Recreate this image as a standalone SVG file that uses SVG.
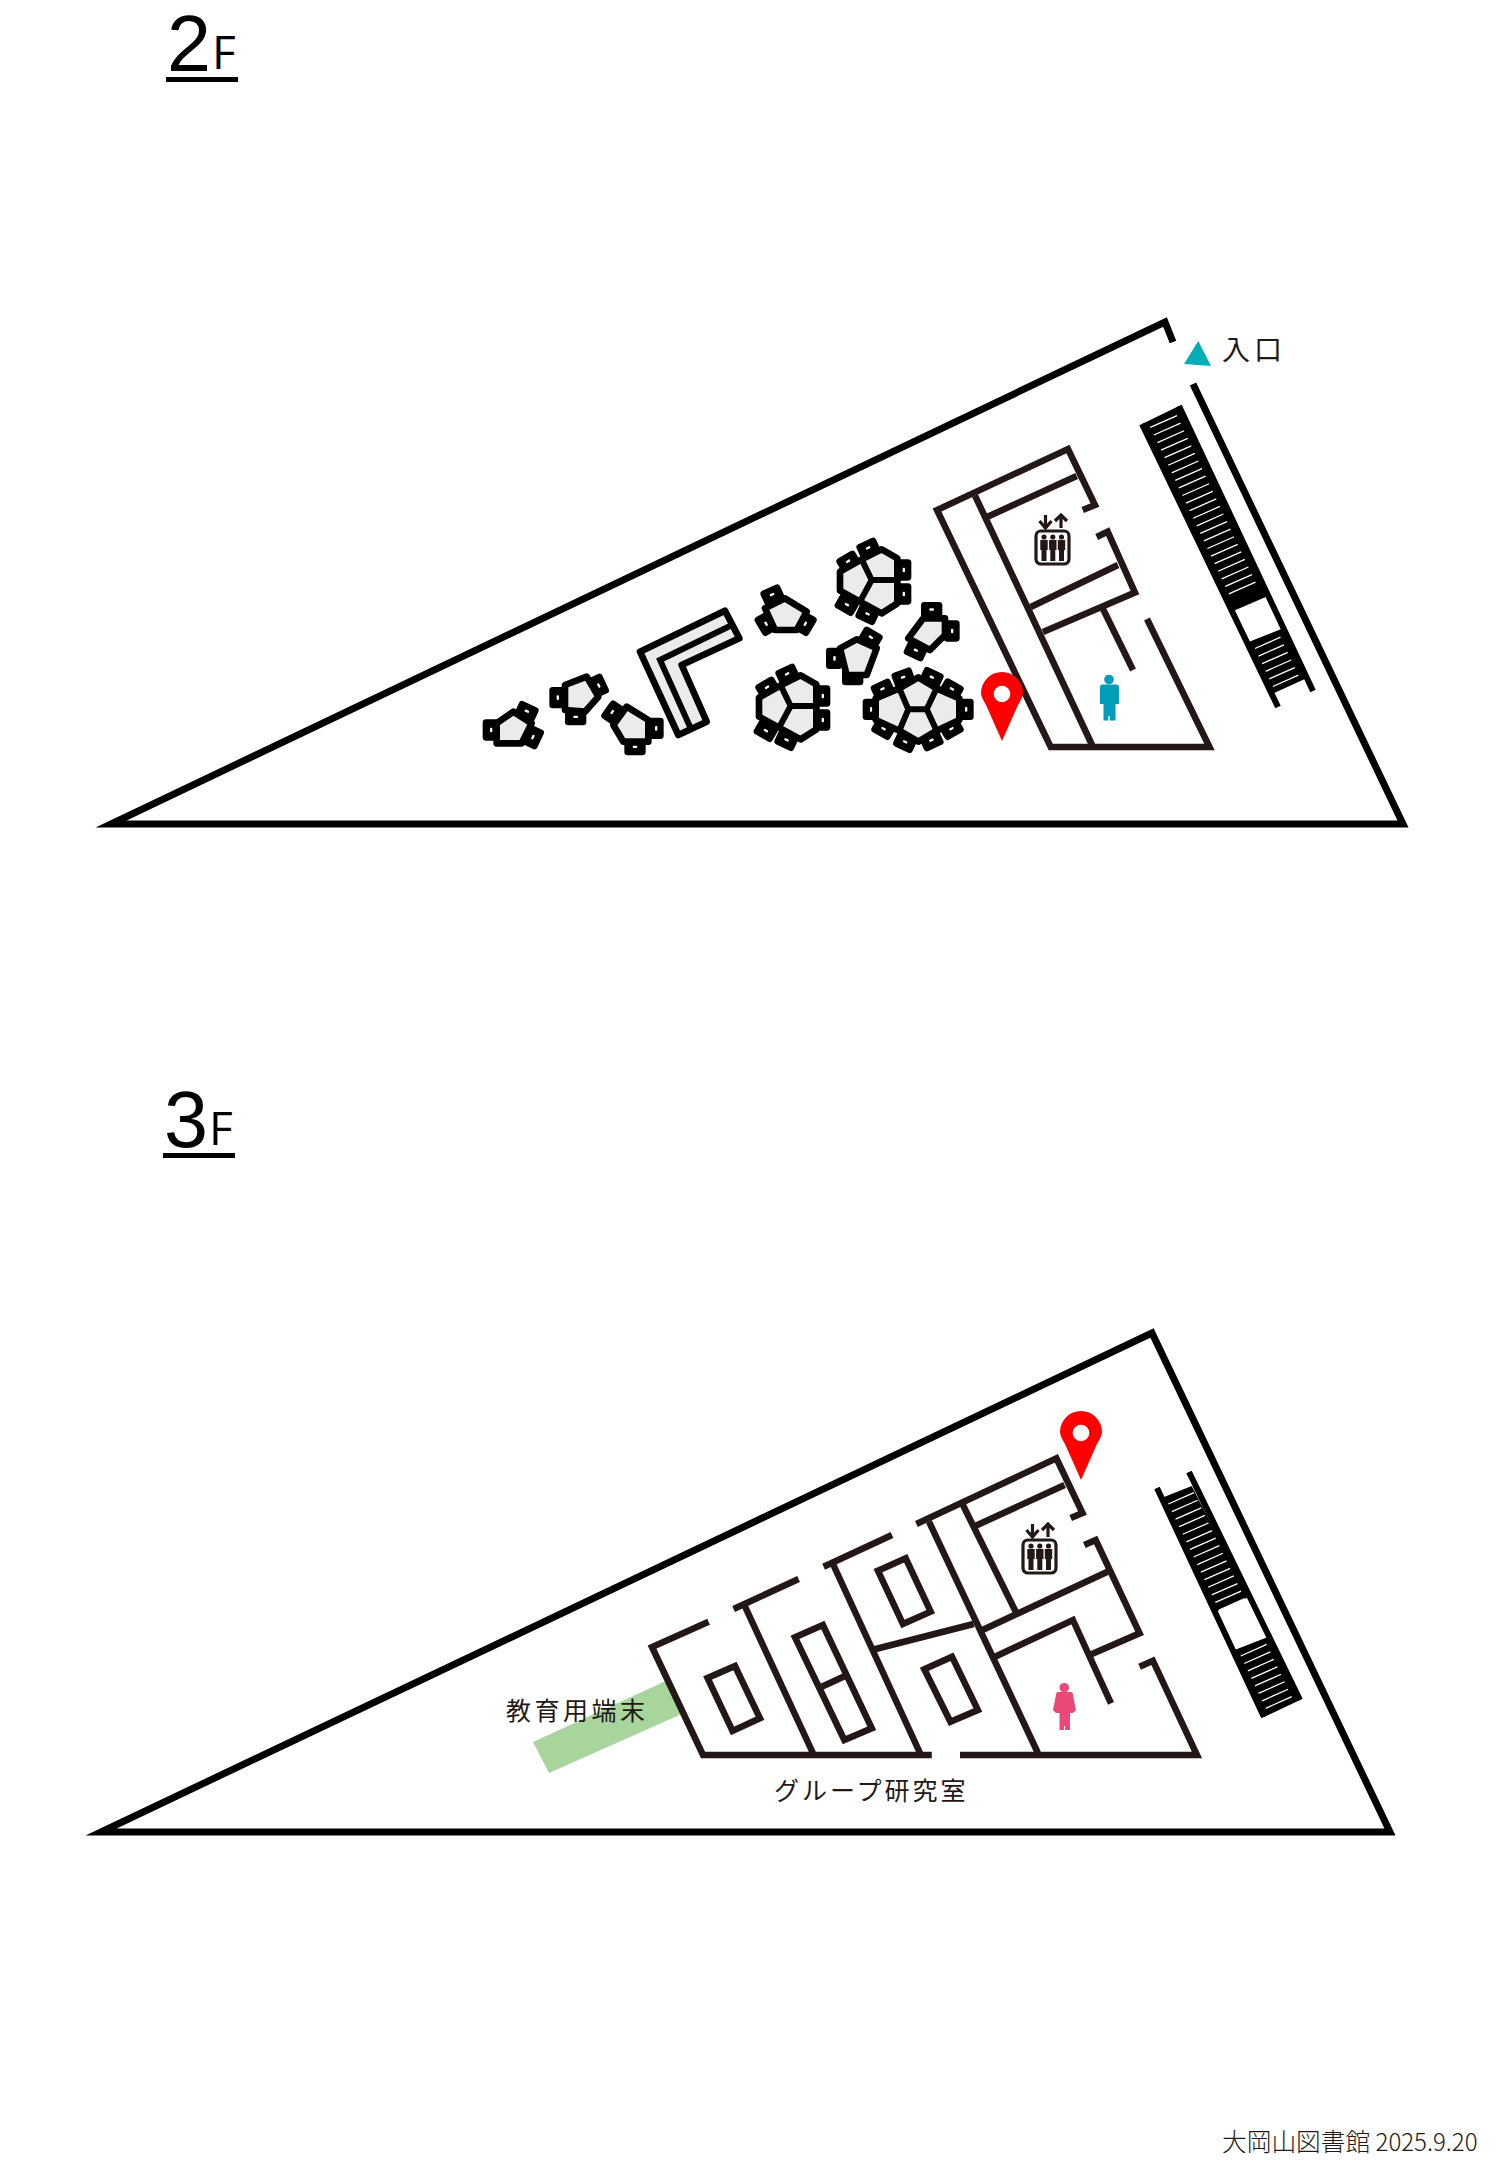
<svg xmlns="http://www.w3.org/2000/svg" width="1500" height="2167" viewBox="0 0 1500 2167">
<style>
.bg{fill:#fff}
.o{fill:none;stroke:#000;stroke-width:7;stroke-miterlimit:12}
.w{fill:none;stroke:#231815;stroke-width:6.500;stroke-miterlimit:6}
.rail{fill:none;stroke:#000;stroke-width:6}
.st{fill:none;stroke:#fff;stroke-width:1.3}
.t{fill:#ebecea;stroke:#000;stroke-width:20;stroke-linejoin:round}
.l{fill:none;stroke:#000;stroke-width:18}
.lab{font-family:"Noto Sans CJK JP","Noto Sans",sans-serif;fill:#231815}
.ft{font-family:"Noto Sans CJK JP","Noto Sans",sans-serif;fill:#231815;font-weight:300}
.ti{font-family:"Open Sans","Noto Sans",sans-serif;fill:#000}
.dg{font-family:"Liberation Sans",sans-serif;fill:#000}
</style>
<defs>
<g id="chair"><rect x="-32" y="-24" width="64" height="48" rx="10" fill="#000"/><rect x="-7" y="-5" width="14" height="7" rx="3" fill="#fff"/></g>
<g id="pin"><path d="M0 47L-16 11Q-21 3-21-1A21 21 0 1 1 21-1Q21 3 16 11Z" fill="#f00"/><circle r="8.3" fill="#fff"/></g>
<g id="elev">
<rect x="0" y="0" width="33" height="33" rx="5" fill="none" stroke="#231815" stroke-width="3.200"/>
<path d="M9.500-16V-4M3.500-10L9.500-3 15.500-10M25-3V-16M19-10L25-16 31-10" fill="none" stroke="#231815" stroke-width="3.200"/>
<g fill="#231815">
<circle cx="8" cy="6" r="2.600"/><path d="M4.300 9H11.700V19H10.500V30H5.500V19H4.300Z"/>
<circle cx="16.800" cy="6" r="2.600"/><path d="M13.100 9H20.500V19H19.300V30H14.300V19H13.100Z"/>
<circle cx="25.500" cy="6" r="2.600"/><path d="M21.800 9H29.200V19H28V30H23V19H21.800Z"/>
</g>
</g>
<g id="tri3">
<use href="#chair" transform="translate(1165 125) rotate(-30)"/><use href="#chair" transform="translate(1225 85) rotate(-25)"/><use href="#chair" transform="translate(1330 150) rotate(90)"/><use href="#chair" transform="translate(1330 222) rotate(90)"/><use href="#chair" transform="translate(1160 255) rotate(30)"/><use href="#chair" transform="translate(1222 283) rotate(25)"/>
<path class="t" d="M1265 88L1312 115V250L1265 280 1200 245 1140 212V155L1205 118Z"/>
<path class="l" d="M1205 118L1235 180H1312M1235 180L1200 245"/>
</g>
</defs>
<rect class="bg" width="1500" height="2167"/>

<g id="title-2f">
<text class="dg" x="167" y="71" font-size="79">2</text>
<text class="ti" x="212" y="69" font-size="46">F</text>
<rect x="166" y="77" width="72" height="5" fill="#000"/>
</g>
<g id="title-3f">
<text class="dg" x="164" y="1147" font-size="79">3</text>
<text class="ti" x="209" y="1145" font-size="46">F</text>
<rect x="163" y="1153" width="72" height="5" fill="#000"/>
</g>

<g id="floor-2f">
<path id="outer-2f" class="o" d="M1173 342L1165 322 111 824H1403L1193 384"/>
<g id="stairs-2f">
<path class="rail" d="M1142 424L1278 707M1179 406L1313 691"/>
<path d="M1142 424L1179 406 1268 596 1231 612Z"/>
<path d="M1246 643L1284 628 1307 678 1272 694Z"/>
<path class="st" d="M1150.300 427.400l26.700-11.800m-23.130 19.370l26.700-11.800m-23.130 19.370l26.700-11.800m-23.130 19.370l26.700-11.800m-23.130 19.370l26.700-11.800m-23.130 19.370l26.700-11.800m-23.130 19.370l26.700-11.800m-23.130 19.370l26.700-11.800m-23.130 19.370l26.700-11.800m-23.130 19.370l26.700-11.800m-23.130 19.370l26.700-11.800m-23.130 19.370l26.700-11.800m-23.130 19.370l26.700-11.800m-23.130 19.370l26.700-11.800m-23.130 19.370l26.700-11.800m-23.130 19.370l26.700-11.800m-23.130 19.370l26.700-11.800m-23.130 19.370l26.700-11.800m-23.130 19.370l26.700-11.800m-23.130 19.370l26.700-11.800m-23.130 19.370l26.700-11.800m-23.130 19.370l26.700-11.800m-23.130 19.370l26.700-11.800"/>
<path class="st" d="M1255 648.500l25.500-11.300m-21.930 18.900l25.500-11.300m-21.930 18.900l25.500-11.300m-21.930 18.900l25.500-11.300m-21.930 18.900l25.500-11.300m-21.930 18.900l25.500-11.300"/>
</g>
<g id="rooms-2f">
<path class="w" d="M1082.700 510L1095 505 1068 449 937 510 1050.700 747H1209.500L1147 619"/>
<path class="w" d="M975 495.600L1093 747"/>
<path class="w" d="M987 517L1076.700 476"/>
<path class="w" d="M1096.700 537L1107.700 531.600 1135 592.600 1043 632"/>
<path class="w" d="M1030.700 607L1118 565"/>
<path class="w" d="M1103 609L1133 670"/>
</g>
<g id="elevator-2f" transform="translate(1036 531)"><use href="#elev"/></g>
<g id="restroom-2f"><circle cx="1109" cy="679.500" r="4.800" fill="#009eb8"/><path d="M1102 684.500H1116Q1119 684.500 1119 687.500V704H1115.500V720.500H1109.700V716H1108.300V720.500H1103.500V704H1100V687.500Q1100 684.500 1102 684.500Z" fill="#009eb8"/></g>
<g id="pin-2f" transform="translate(1002 694)"><use href="#pin"/></g>
<g id="entrance">
<path d="M1198.300 341L1184 364 1211 366Z" fill="#00aeb8"/>
<text class="lab" x="1222" y="360" font-size="28" letter-spacing="4">入口</text>
</g>
<g id="tables" transform="translate(460 520) scale(.33333)">
<g id="table-a"><use href="#chair" transform="translate(92 630) rotate(90)"/><use href="#chair" transform="translate(200 575) rotate(25)"/><use href="#chair" transform="translate(220 652) rotate(-65)"/><path class="t" d="M110 610L160 575 215 610 185 670H110Z"/></g>
<g id="table-b"><use href="#chair" transform="translate(292 533) rotate(90)"/><use href="#chair" transform="translate(415 497) rotate(65)"/><use href="#chair" transform="translate(347 592)"/><path class="t" d="M315 495L380 470 415 530 375 575 315 570Z"/></g>
<g id="table-c"><use href="#chair" transform="translate(458 577) rotate(-55)"/><use href="#chair" transform="translate(587 625) rotate(90)"/><use href="#chair" transform="translate(525 682)"/><path class="t" d="M460 615L500 560 565 600V665H490Z"/></g>
<g id="bench"><path class="t" stroke-linejoin="miter" d="M540 395L795 272 838 355 665 435 740 605 655 645Z"/><path class="l" d="M810 318L600 420 692 625"/></g>
<g id="table-d"><use href="#chair" transform="translate(937 225) rotate(-25)"/><use href="#chair" transform="translate(917 312) rotate(60)"/><use href="#chair" transform="translate(1037 312) rotate(-60)"/><path class="t" d="M975 235L1040 275 1010 330H945L915 265Z"/></g>
<g id="table-e"><use href="#tri3"/></g>
<g id="table-f"><use href="#tri3" transform="translate(-243 378)"/></g>
<g id="table-g"><use href="#chair" transform="translate(1415 270)"/><use href="#chair" transform="translate(1475 333) rotate(90)"/><use href="#chair" transform="translate(1367 392) rotate(25)"/><path class="t" d="M1390 295H1455V345L1410 390 1345 355Z"/></g>
<g id="table-h"><use href="#chair" transform="translate(1232 353) rotate(30)"/><use href="#chair" transform="translate(1122 415) rotate(90)"/><use href="#chair" transform="translate(1178 472)"/><path class="t" d="M1190 358L1250 385 1220 465H1160L1140 385Z"/></g>
<g id="table-i">
<use href="#chair" transform="translate(1232 568) rotate(90)"/><use href="#chair" transform="translate(1268 508) rotate(-25)"/><use href="#chair" transform="translate(1330 473) rotate(-20)"/><use href="#chair" transform="translate(1415 473) rotate(25)"/><use href="#chair" transform="translate(1475 508) rotate(30)"/><use href="#chair" transform="translate(1517 568) rotate(90)"/><use href="#chair" transform="translate(1475 627) rotate(-30)"/><use href="#chair" transform="translate(1415 662) rotate(-25)"/><use href="#chair" transform="translate(1335 667) rotate(25)"/><use href="#chair" transform="translate(1270 627) rotate(30)"/>
<path class="t" d="M1375 472L1430 505 1498 535V600L1430 632 1375 665 1318 632 1247 600V535L1318 505Z"/>
<path class="l" d="M1318 505L1345 568H1400L1430 505M1345 568L1318 632M1400 568L1430 632"/>
</g>
</g>
</g>

<g id="floor-3f">
<path id="green-area" d="M533 1742L549 1773 684 1713 668 1680Z" fill="#a8d59b"/>
<path id="outer-3f" class="o" d="M1152 1333L101 1832H1390Z"/>
<g id="stairs-3f">
<path class="rail" d="M1157 1488L1264 1717M1189 1472L1300 1700"/>
<path d="M1164 1497L1191.700 1486 1249 1597 1215 1612Z"/>
<path d="M1232 1651L1268 1637 1300 1700 1264 1717Z"/>
<path class="st" d="M1168.300 1504l25.700-11.300m-22.080 18.870l25.700-11.300m-22.080 18.870l25.700-11.300m-22.080 18.870l25.700-11.300m-22.080 18.870l25.700-11.300m-22.080 18.870l25.700-11.300m-22.080 18.870l25.700-11.300m-22.080 18.870l25.700-11.300m-22.080 18.870l25.700-11.300m-22.080 18.870l25.700-11.300m-22.080 18.870l25.700-11.300m-22.080 18.870l25.700-11.300m-22.080 18.870l25.700-11.300m-22.080 18.870l25.700-11.300m-22.080 18.870l25.700-11.300"/>
<path class="st" d="M1240.700 1656l26-11.600m-22.430 19.070l26-11.600m-22.430 19.070l26-11.600m-22.430 19.070l26-11.600m-22.430 19.070l26-11.600m-22.430 19.070l26-11.600m-22.430 19.070l26-11.600m-22.430 19.070l26-11.600"/>
</g>
<g id="rooms-3f">
<path class="w" d="M1070.700 1518L1082.500 1513 1056.400 1458.300 916.400 1524"/>
<path class="w" d="M973.600 1526.700L1064.600 1485"/>
<path class="w" d="M962.900 1505L1016.400 1613"/>
<path class="w" d="M929 1521.700L1037.900 1753"/>
<path class="w" d="M1084.300 1545L1095.700 1540 1139.600 1633.300 1089.600 1655"/>
<path class="w" d="M982.500 1630L1107.500 1571.700"/>
<path class="w" d="M995 1656.700L1072.900 1620 1111 1703.300"/>
<path class="w" d="M1139.600 1666.700L1152.900 1660.700 1197 1755H960"/>
<path class="w" d="M931.800 1755H703L652 1647 708.600 1621.700"/>
<path class="w" d="M798.600 1579L733.600 1609"/>
<path class="w" d="M744.300 1605L812.900 1753"/>
<path class="w" d="M892 1535L823.600 1566.700"/>
<path class="w" d="M832.500 1563L920 1753"/>
<path class="w" d="M871.800 1650L973.600 1624"/>
<path class="w" d="M707.500 1678L735 1666 760 1718.300 732.500 1731Z"/>
<path class="w" d="M795 1637.300L822.900 1625 871.800 1728.300 844.300 1740Z"/>
<path class="w" d="M821.800 1686.700L845 1676"/>
<path class="w" d="M877.900 1570.700L905.700 1558.300 930.700 1611.700 902.900 1624Z"/>
<path class="w" d="M924.300 1669.300L952 1656.700 977.900 1710 950.400 1721.700Z"/>
</g>
<g id="elevator-3f" transform="translate(1023 1540)"><use href="#elev"/></g>
<g id="restroom-3f"><circle cx="1064.300" cy="1687.700" r="4.800" fill="#e94977"/><path d="M1058 1692H1071Q1073 1692 1073 1695L1076 1710 1073 1713H1070V1730H1065V1726H1064V1730H1059.500V1713H1056L1053 1710 1056 1695Q1056 1692 1058 1692Z" fill="#e94977"/></g>
<g id="pin-3f" transform="translate(1081 1433)"><use href="#pin"/></g>
<text class="lab" x="506" y="1720" font-size="25" letter-spacing="3.500">教育用端末</text>
<text class="lab" x="774" y="1800" font-size="25" letter-spacing="3">グループ研究室</text>
</g>
<text class="ft" x="1222" y="2151" font-size="24.700">大岡山図書館 <tspan font-size="24">2025.9.20</tspan></text>
</svg>
